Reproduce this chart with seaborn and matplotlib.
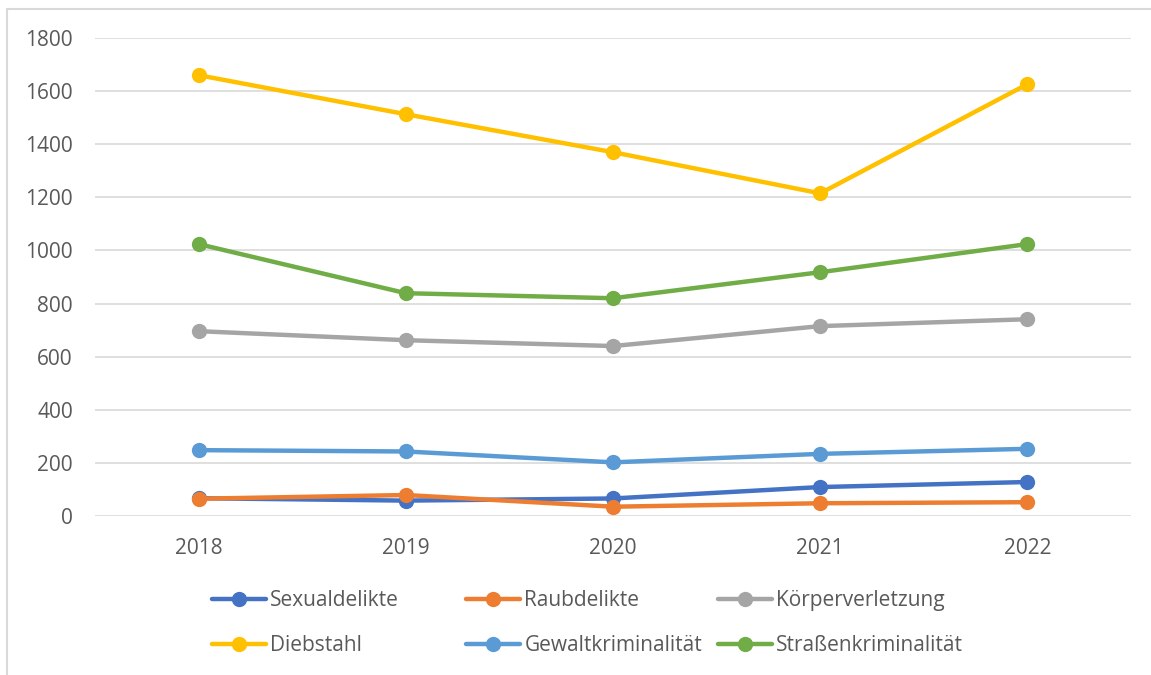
import matplotlib
matplotlib.use("Agg")
import matplotlib.pyplot as plt
import seaborn as sns
import pandas as pd
from matplotlib.lines import Line2D

years = [2018, 2019, 2020, 2021, 2022]
sexualdelikte = [67, 58, 66, 109, 128]
raubdelikte = [65, 79, 35, 48, 52]
koerperverletzung = [696, 662, 640, 715, 741]
diebstahl = [1660, 1513, 1370, 1215, 1626]
gewaltkriminalitaet = [248, 243, 202, 234, 253]
strassenkriminalitaet = [1024, 839, 820, 918, 1024]

series = {
    "Sexualdelikte": sexualdelikte,
    "Raubdelikte": raubdelikte,
    "Körperverletzung": koerperverletzung,
    "Diebstahl": diebstahl,
    "Gewaltkriminalität": gewaltkriminalitaet,
    "Straßenkriminalität": strassenkriminalitaet,
}
colors = {
    "Sexualdelikte": "#4472C4",
    "Raubdelikte": "#ED7D31",
    "Körperverletzung": "#A5A5A5",
    "Diebstahl": "#FFC000",
    "Gewaltkriminalität": "#5B9BD5",
    "Straßenkriminalität": "#70AD47",
}

rows = []
for name, vals in series.items():
    for y, v in zip(years, vals):
        rows.append({"Jahr": y, "Wert": v, "Delikt": name})
df = pd.DataFrame(rows)

sns.set_style("white")
plt.rcParams["font.family"] = ["Open Sans", "DejaVu Sans"]

fig = plt.figure(figsize=(11.51, 6.75), dpi=100)
ax = fig.add_axes([95 / 1151, 1 - 516 / 675, (1131 - 95) / 1151, (516 - 38) / 675])

sns.lineplot(data=df, x="Jahr", y="Wert", hue="Delikt", palette=colors,
             hue_order=list(series.keys()), marker="o", markersize=11,
             markeredgewidth=0, linewidth=3.2, ax=ax, legend=False)

ax.set_xlim(2017.5, 2022.5)
ax.set_ylim(0, 1800)
ax.set_yticks(range(0, 1801, 200))
ax.set_xticks(years)
ax.set_xlabel("")
ax.set_ylabel("")
ax.grid(axis="y", color="#D9D9D9", linewidth=1.2)
ax.set_axisbelow(True)
for s in ax.spines.values():
    s.set_visible(False)
ax.tick_params(axis="both", length=0, labelsize=15, labelcolor="#595959")
ax.tick_params(axis="x", pad=16)
ax.tick_params(axis="y", pad=16)

# legend: three columns with equal spacing, two rows each
columns = [
    (212, ["Sexualdelikte", "Diebstahl"]),
    (466, ["Raubdelikte", "Gewaltkriminalität"]),
    (718, ["Körperverletzung", "Straßenkriminalität"]),
]
for x0, names in columns:
    handles = [Line2D([], [], color=colors[n], linewidth=3.2, marker="o",
                      markersize=11, markeredgewidth=0) for n in names]
    leg = fig.legend(handles, names, loc="center left",
                     bbox_to_anchor=(x0 / 1151, 1 - 623 / 675),
                     frameon=False, fontsize=15, handlelength=2.6,
                     handletextpad=0.2, labelspacing=1.15,
                     borderpad=0, borderaxespad=0)
    for t in leg.get_texts():
        t.set_color("#595959")

# chart-area border (only top and left edges visible in the crop)
border_y = 1 - 8.5 / 675
border_x = 7.5 / 1151
fig.add_artist(Line2D([border_x, 1], [border_y, border_y], transform=fig.transFigure,
                      color="#D9D9D9", linewidth=1.5))
fig.add_artist(Line2D([border_x, border_x], [0, border_y], transform=fig.transFigure,
                      color="#D9D9D9", linewidth=1.5))

fig.savefig("out.png", dpi=100)
